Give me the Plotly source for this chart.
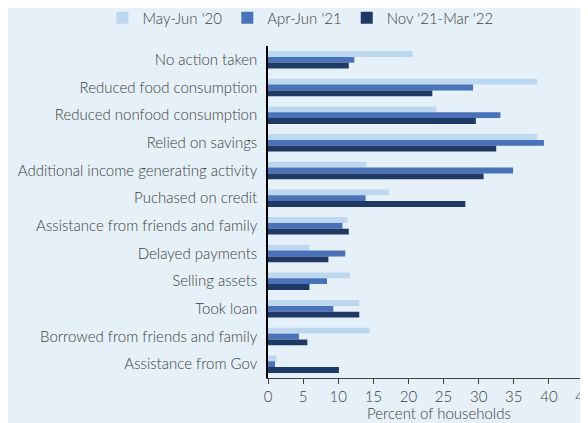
import plotly.graph_objects as go

categories = [
    "No action taken",
    "Reduced food consumption",
    "Reduced nonfood consumption",
    "Relied on savings",
    "Additional income generating activity",
    "Puchased on credit",
    "Assistance from friends and family",
    "Delayed payments",
    "Selling assets",
    "Took loan",
    "Borrowed from friends and family",
    "Assistance from Gov",
]
series_names = ["May-Jun '20", "Apr-Jun '21", "Nov '21-Mar '22"]
may_jun_20 = [20.6, 38.3, 24.0, 38.3, 14.0, 17.2, 11.3, 5.9, 11.7, 13.0, 14.5, 1.2]
apr_jun_21 = [12.3, 29.2, 33.1, 39.3, 34.9, 13.9, 10.6, 11.0, 8.4, 9.3, 4.4, 1.0]
nov21_mar22 = [11.5, 23.4, 29.6, 32.5, 30.7, 28.1, 11.5, 8.6, 5.9, 13.0, 5.6, 10.1]
x_ticks = [0, 5, 10, 15, 20, 25, 30, 35, 40, 45]

colors = ["#BDD7EE", "#4A72B8", "#203864"]
bg = "#E6F0F8"
font = "Lato"
txt = "#404040"

fig = go.Figure()
for name, vals, c in zip(series_names, [may_jun_20, apr_jun_21, nov21_mar22], colors):
    fig.add_trace(go.Bar(
        y=categories, x=vals, name=name, orientation="h",
        marker=dict(color=c, line=dict(width=0)),
    ))

fig.update_layout(
    width=580, height=415,
    paper_bgcolor=bg, plot_bgcolor=bg,
    margin=dict(l=260, r=4, t=38, b=45, autoexpand=False),
    barmode="group", bargap=0.37, bargroupgap=0,
    font=dict(family=font, size=14, color=txt, weight=300),
    showlegend=True,
    legend=dict(orientation="h", x=-0.524, xanchor="left", y=1.084, yanchor="middle",
                traceorder="normal", font=dict(size=15, color=txt, weight=300),
                bgcolor="rgba(0,0,0,0)", itemwidth=30, tracegroupgap=0),
    annotations=[dict(text="Percent of households", x=0.54, xref="paper", xanchor="center",
                      y=-0.105, yref="paper", yanchor="middle", showarrow=False,
                      font=dict(size=15, color=txt, weight=300))],
)
fig.update_xaxes(
    range=[0, 45], tickvals=x_ticks, ticktext=[str(t) for t in x_ticks],
    showgrid=False, zeroline=False, showline=True, linecolor="#404040", linewidth=1,
    ticks="outside", ticklen=5, tickcolor="#404040",
    tickfont=dict(size=15, color=txt, weight=300), automargin=False, ticklabeloverflow="allow",
)
fig.update_yaxes(
    autorange="reversed", showgrid=False, zeroline=False,
    showline=True, linecolor="#000000", linewidth=1.5,
    ticks="", ticklabelstandoff=6, automargin=False,
    tickfont=dict(size=15, color=txt, weight=300),
)

fig.write_html("out.html")
